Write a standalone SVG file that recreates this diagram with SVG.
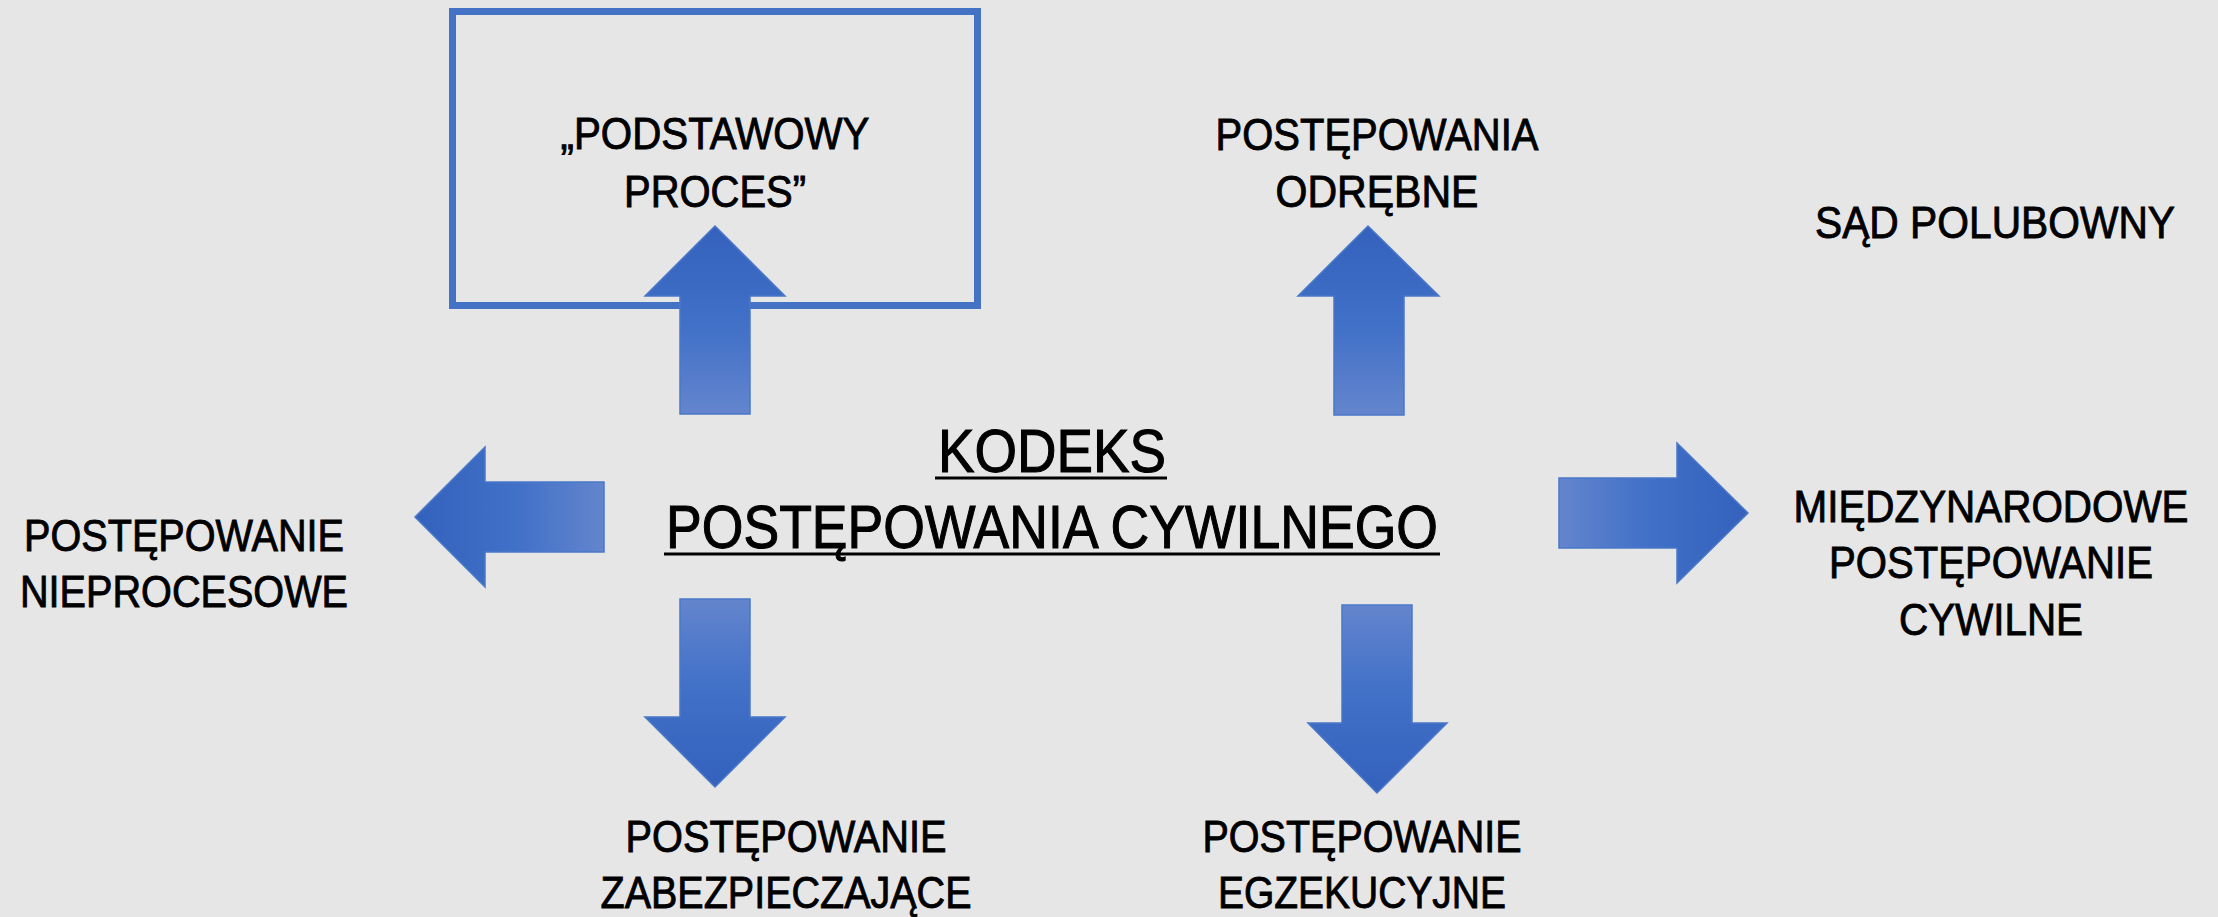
<svg xmlns="http://www.w3.org/2000/svg" width="2218" height="917" viewBox="0 0 2218 917">
<style>
.t{font-family:"Liberation Sans",Arial,sans-serif;font-size:45px;fill:#000;stroke:#000;stroke-width:0.9;text-anchor:middle}
.title{font-size:61px;stroke-width:1.1}
.arr{stroke:#4a78c9;stroke-width:1.5}
</style>
<defs>
<linearGradient id="gUp" x1="0" y1="0" x2="0" y2="1"><stop offset="0" stop-color="#3361BC"/><stop offset="0.55" stop-color="#4271C8"/><stop offset="1" stop-color="#6485CD"/></linearGradient>
<linearGradient id="gDown" x1="0" y1="1" x2="0" y2="0"><stop offset="0" stop-color="#3361BC"/><stop offset="0.55" stop-color="#4271C8"/><stop offset="1" stop-color="#6485CD"/></linearGradient>
<linearGradient id="gLeft" x1="0" y1="0" x2="1" y2="0"><stop offset="0" stop-color="#3361BC"/><stop offset="0.55" stop-color="#4271C8"/><stop offset="1" stop-color="#6485CD"/></linearGradient>
<linearGradient id="gRight" x1="1" y1="0" x2="0" y2="0"><stop offset="0" stop-color="#3361BC"/><stop offset="0.55" stop-color="#4271C8"/><stop offset="1" stop-color="#6485CD"/></linearGradient>
</defs>
<rect width="2218" height="917" fill="#E7E6E6"/>

<g id="podstawowy">
<rect x="452.5" y="11.5" width="525" height="294" fill="none" stroke="#4472C4" stroke-width="7"/>
<text class="t" x="715" y="149" textLength="309" lengthAdjust="spacingAndGlyphs">„PODSTAWOWY</text>
<text class="t" x="715" y="207" textLength="182" lengthAdjust="spacingAndGlyphs">PROCES”</text>
</g>

<g id="odrebne">
<text class="t" x="1377" y="150" textLength="323" lengthAdjust="spacingAndGlyphs">POSTĘPOWANIA</text>
<text class="t" x="1377" y="207" textLength="203" lengthAdjust="spacingAndGlyphs">ODRĘBNE</text>
</g>

<g id="sad">
<text class="t" x="1995" y="238" textLength="360" lengthAdjust="spacingAndGlyphs">SĄD POLUBOWNY</text>
</g>

<g id="kpc">
<text class="t title" x="1052" y="472" textLength="228" lengthAdjust="spacingAndGlyphs">KODEKS</text>
<line x1="935" y1="478" x2="1167" y2="478" stroke="#000" stroke-width="3"/>
<text class="t title" x="1052" y="548" textLength="772" lengthAdjust="spacingAndGlyphs">POSTĘPOWANIA CYWILNEGO</text>
<line x1="664" y1="554" x2="1440" y2="554" stroke="#000" stroke-width="3"/>
</g>

<g id="nieprocesowe">
<text class="t" x="184" y="551" textLength="320" lengthAdjust="spacingAndGlyphs">POSTĘPOWANIE</text>
<text class="t" x="184" y="607" textLength="328" lengthAdjust="spacingAndGlyphs">NIEPROCESOWE</text>
</g>

<g id="miedzynarodowe">
<text class="t" transform="matrix(0.898,0,0,1,1991,522)" x="0" y="0">MIĘDZYNARODOWE</text>
<text class="t" x="1991" y="578" textLength="324" lengthAdjust="spacingAndGlyphs">POSTĘPOWANIE</text>
<text class="t" x="1991" y="635" textLength="184" lengthAdjust="spacingAndGlyphs">CYWILNE</text>
</g>

<g id="zabezpieczajace">
<text class="t" x="786" y="852" textLength="321" lengthAdjust="spacingAndGlyphs">POSTĘPOWANIE</text>
<text class="t" x="786" y="908" textLength="371" lengthAdjust="spacingAndGlyphs">ZABEZPIECZAJĄCE</text>
</g>

<g id="egzekucyjne">
<text class="t" x="1362" y="852" textLength="319" lengthAdjust="spacingAndGlyphs">POSTĘPOWANIE</text>
<text class="t" x="1362" y="908" textLength="288" lengthAdjust="spacingAndGlyphs">EGZEKUCYJNE</text>
</g>

<g id="connectors">
<polygon class="arr" fill="url(#gUp)" points="715,226 785,296 750,296 750,414 680,414 680,296 645,296"/>
<polygon class="arr" fill="url(#gUp)" points="1368,226 1439,296 1404,296 1404,415 1334,415 1334,296 1298,296"/>
<polygon class="arr" fill="url(#gLeft)" points="415,517 485,447 485,482 604,482 604,552 485,552 485,587"/>
<polygon class="arr" fill="url(#gRight)" points="1748,513 1677,443 1677,478 1559,478 1559,548 1677,548 1677,583"/>
<polygon class="arr" fill="url(#gDown)" points="715,787 645,717 680,717 680,599 750,599 750,717 785,717"/>
<polygon class="arr" fill="url(#gDown)" points="1377,793 1308,723 1342,723 1342,605 1412,605 1412,723 1447,723"/>
</g>
</svg>
